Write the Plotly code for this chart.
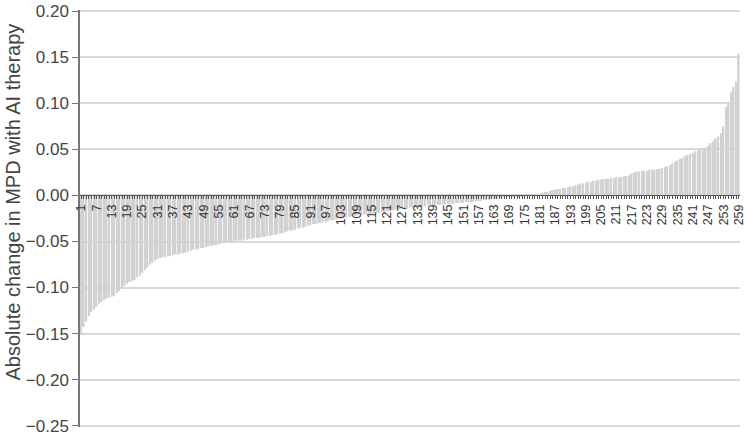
import plotly.graph_objects as go

# sorted per-patient change in MPD
change = [
    -0.151, -0.143, -0.137, -0.131, -0.127, -0.124, -0.121, -0.118, -0.116, -0.114,
    -0.112, -0.111, -0.110, -0.109, -0.106, -0.104, -0.100, -0.098, -0.096, -0.094,
    -0.093, -0.092, -0.089, -0.087, -0.084, -0.081, -0.078, -0.075, -0.073, -0.071,
    -0.069, -0.068, -0.067, -0.067, -0.066, -0.066, -0.065, -0.064, -0.064, -0.063,
    -0.063, -0.062, -0.061, -0.060, -0.059, -0.059, -0.058, -0.057, -0.057, -0.056,
    -0.055, -0.055, -0.054, -0.054, -0.053, -0.052, -0.052, -0.051, -0.051, -0.050,
    -0.050, -0.049, -0.049, -0.049, -0.048, -0.048, -0.047, -0.047, -0.046, -0.046,
    -0.046, -0.045, -0.045, -0.044, -0.044, -0.043, -0.043, -0.042, -0.041, -0.041,
    -0.040, -0.039, -0.038, -0.038, -0.037, -0.036, -0.035, -0.035, -0.034, -0.033,
    -0.032, -0.031, -0.031, -0.030, -0.030, -0.029, -0.029, -0.028, -0.027, -0.027,
    -0.026, -0.025, -0.025, -0.024, -0.024, -0.023, -0.023, -0.022, -0.022, -0.021,
    -0.021, -0.021, -0.020, -0.020, -0.020, -0.019, -0.019, -0.019, -0.018, -0.018,
    -0.017, -0.017, -0.016, -0.016, -0.015, -0.015, -0.014, -0.014, -0.014, -0.013,
    -0.013, -0.013, -0.012, -0.012, -0.012, -0.012, -0.011, -0.011, -0.011, -0.011,
    -0.010, -0.010, -0.010, -0.009, -0.009, -0.009, -0.009, -0.008, -0.008, -0.008,
    -0.008, -0.007, -0.007, -0.007, -0.007, -0.006, -0.006, -0.006, -0.005, -0.005,
    -0.005, -0.004, -0.004, -0.004, -0.003, -0.003, -0.003, -0.002, -0.002, -0.002,
    -0.002, -0.001, -0.001, -0.001, 0.000, 0.000, 0.000, 0.001, 0.001, 0.001,
    0.002, 0.003, 0.004, 0.004, 0.005, 0.006, 0.006, 0.007, 0.007, 0.008,
    0.008, 0.009, 0.010, 0.010, 0.011, 0.012, 0.013, 0.013, 0.014, 0.015,
    0.015, 0.016, 0.016, 0.017, 0.017, 0.018, 0.018, 0.018, 0.019, 0.019,
    0.020, 0.020, 0.020, 0.021, 0.021, 0.022, 0.024, 0.025, 0.026, 0.026,
    0.027, 0.027, 0.027, 0.028, 0.028, 0.028, 0.029, 0.029, 0.030, 0.031,
    0.032, 0.033, 0.035, 0.037, 0.038, 0.040, 0.041, 0.043, 0.044, 0.045,
    0.046, 0.048, 0.049, 0.050, 0.051, 0.052, 0.054, 0.057, 0.059, 0.062,
    0.064, 0.068, 0.075, 0.096, 0.100, 0.112, 0.118, 0.124, 0.154,
]
patients = list(range(1, len(change) + 1))
tick_labels = list(range(1, 260, 6))
y_ticks = [-0.25, -0.20, -0.15, -0.10, -0.05, 0.00, 0.05, 0.10, 0.15, 0.20]

y_min, y_max = -0.2515, 0.2015

fig = go.Figure(go.Bar(
    x=patients,
    y=change,
    marker=dict(color='#d2d2d2', line=dict(width=0)),
))

fig.update_layout(
    width=746, height=436,
    margin=dict(l=80, r=6, t=10, b=9),
    plot_bgcolor='white', paper_bgcolor='white',
    bargap=0.35,
    showlegend=False,
    font=dict(family='Liberation Sans, Arial, sans-serif', color='#333333'),
)

fig.add_annotation(
    text='Absolute change in MPD with AI therapy',
    xref='paper', yref='paper', x=-0.102, y=0.54,
    xanchor='center', yanchor='middle', textangle=-90,
    showarrow=False, font=dict(size=20, color='#444444'),
)

fig.update_yaxes(
    range=[y_min, y_max],
    automargin=False,
    tickmode='array', tickvals=y_ticks,
    tickformat='.2f',
    ticklabeloverflow='allow',
    showgrid=True, gridcolor='#d9d9d9', gridwidth=1.5,
    zeroline=False,
    showline=True, linecolor='#777777', linewidth=1.5,
    ticks='outside', ticklen=6, tickcolor='#777777',
    tickfont=dict(size=17, color='#444444'),
)

# category axis drawn along y = 0
fig.update_xaxes(
    range=[0.5, 259.5],
    automargin=False,
    anchor='free',
    position=(0 - y_min) / (y_max - y_min),
    showgrid=False, zeroline=False,
    showline=True, linecolor='#555555', linewidth=1,
    tickmode='array', tickvals=tick_labels,
    ticktext=[str(t) for t in tick_labels],
    tickangle=-90,
    ticklabeloverflow='allow',
    ticks='outside', ticklen=3, tickcolor='#555555',
    tickfont=dict(size=12.5, color='#333333'),
    minor=dict(tickmode='linear', tick0=1, dtick=1, ticks='outside',
               ticklen=3, tickcolor='#555555'),
)

# drop the browser's default 8px body margin so the figure fills the window
fig.write_html("out.html", config={'displayModeBar': False},
               post_script="document.body.style.margin='0';")
